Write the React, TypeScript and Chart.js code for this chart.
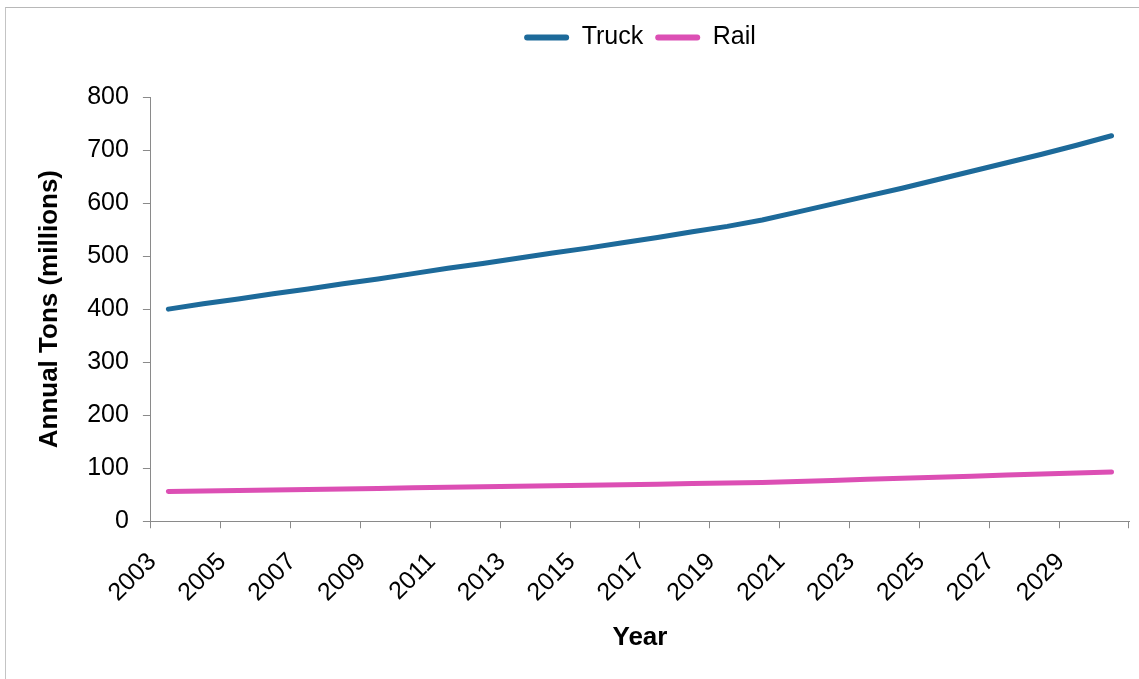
import React, { useEffect, useRef } from "react";
import { Chart, registerables } from "chart.js";

Chart.register(...registerables);

// Forecast years on the category axis
const years: string[] = [
  "2003", "2004", "2005", "2006", "2007", "2008", "2009", "2010", "2011", "2012",
  "2013", "2014", "2015", "2016", "2017", "2018", "2019", "2020", "2021", "2022",
  "2023", "2024", "2025", "2026", "2027", "2028", "2029", "2030",
];

// Annual tonnage by mode (millions of tons)
const truckTons: number[] = [
  400, 410, 419, 429, 438, 448, 457, 467, 477, 486,
  496, 506, 515, 525, 535, 546, 556, 568, 583, 598,
  613, 628, 644, 660, 676, 692, 709, 727,
];
const railTons: number[] = [
  56, 57, 58, 59, 60, 61, 62, 63, 64, 65,
  66, 67, 68, 69, 70, 71, 72, 73, 75, 77,
  79, 81, 83, 85, 87, 89, 91, 93,
];

const yTicks = { min: 0, max: 800, step: 100 };

const FONT = "'Liberation Sans', Arial, sans-serif";
const AXIS_GREY = "#8a8a8a";

// Adds room below the legend row
const legendSpacer = {
  id: "legendSpacer",
  beforeInit(chart: any) {
    const legend = chart.legend;
    if (!legend) return;
    const baseFit = legend.fit;
    legend.fit = function fit() {
      baseFit.call(this);
      this.height += 37;
    };
  },
};

export default function App() {
  const canvasRef = useRef<HTMLCanvasElement | null>(null);

  useEffect(() => {
    if (!canvasRef.current) return;
    Chart.defaults.font.family = FONT;
    const baseLabels = Chart.defaults.plugins.legend.labels.generateLabels;
    const chart = new Chart(canvasRef.current, {
      type: "line",
      data: {
        labels: years,
        datasets: [
          {
            label: "Truck",
            data: truckTons,
            borderColor: "#1d6a9a",
            backgroundColor: "#1d6a9a",
            borderWidth: 5,
            pointRadius: 0,
            tension: 0,
            borderCapStyle: "round",
            borderJoinStyle: "round",
          },
          {
            label: "Rail",
            data: railTons,
            borderColor: "#dc4fb4",
            backgroundColor: "#dc4fb4",
            borderWidth: 5,
            pointRadius: 0,
            tension: 0,
            borderCapStyle: "round",
            borderJoinStyle: "round",
          },
        ],
      },
      options: {
        animation: false,
        responsive: false,
        maintainAspectRatio: false,
        layout: { padding: { left: 34, right: 10, top: 13, bottom: 26 } },
        plugins: {
          tooltip: { enabled: false },
          legend: {
            position: "top",
            align: "center",
            fullSize: false,
            labels: {
              color: "#000",
              font: { size: 25, family: FONT },
              boxWidth: 45,
              boxHeight: 6,
              padding: 12,
              useBorderRadius: true,
              borderRadius: 3,
              // solid line swatches without an outline stroke
              generateLabels: (c: any) =>
                baseLabels(c).map((item: any) => ({
                  ...item,
                  fillStyle: item.strokeStyle,
                  lineWidth: 0,
                })),
            },
          },
        },
        scales: {
          x: {
            type: "category",
            offset: true,
            border: { display: true, color: AXIS_GREY, width: 1 },
            grid: {
              offset: true,
              drawOnChartArea: false,
              drawTicks: true,
              tickLength: 7,
              color: (ctx: any) =>
                ctx.index === undefined || ctx.index % 2 === 0 ? AXIS_GREY : "rgba(0,0,0,0)",
              tickColor: (ctx: any) =>
                ctx.index === undefined || ctx.index % 2 === 0 ? AXIS_GREY : "rgba(0,0,0,0)",
            },
            ticks: {
              autoSkip: false,
              maxRotation: 45,
              minRotation: 45,
              padding: 19,
              labelOffset: -16,
              color: "#000",
              font: { size: 25, family: FONT },
              callback: (_v: any, i: number) => (i % 2 === 0 ? years[i] : ""),
            },
            title: {
              display: true,
              text: "Year",
              color: "#000",
              font: { size: 26, weight: "bold", family: FONT },
              padding: { top: -5, bottom: 0 },
            },
            // rotated labels end left of their ticks, so no right overhang is needed
            afterFit: (scale: any) => {
              scale.paddingRight = 0;
            },
          },
          y: {
            min: yTicks.min,
            max: yTicks.max,
            border: { display: true, color: AXIS_GREY, width: 1 },
            grid: {
              drawOnChartArea: false,
              drawTicks: true,
              tickLength: 8,
              color: AXIS_GREY,
            },
            ticks: {
              stepSize: yTicks.step,
              padding: 14,
              color: "#000",
              font: { size: 25, family: FONT },
            },
            title: {
              display: true,
              text: "Annual Tons (millions)",
              color: "#000",
              font: { size: 26, weight: "bold", family: FONT },
              padding: { top: 0, bottom: 8 },
            },
          },
        },
      },
      plugins: [legendSpacer],
    });
    return () => chart.destroy();
  }, []);

  return (
    <div
      style={{
        position: "fixed",
        left: 0,
        top: 0,
        width: 1139,
        height: 679,
        background: "#fff",
        overflow: "hidden",
      }}
    >
      <div
        style={{
          position: "absolute",
          left: 5,
          top: 7,
          right: -2,
          bottom: -2,
          borderLeft: "1px solid #c4c4c4",
          borderTop: "1px solid #b8b8b8",
        }}
      />
      <canvas
        ref={canvasRef}
        width={1139}
        height={679}
        style={{ position: "absolute", left: 0, top: 0, width: 1139, height: 679 }}
      />
    </div>
  );
}
